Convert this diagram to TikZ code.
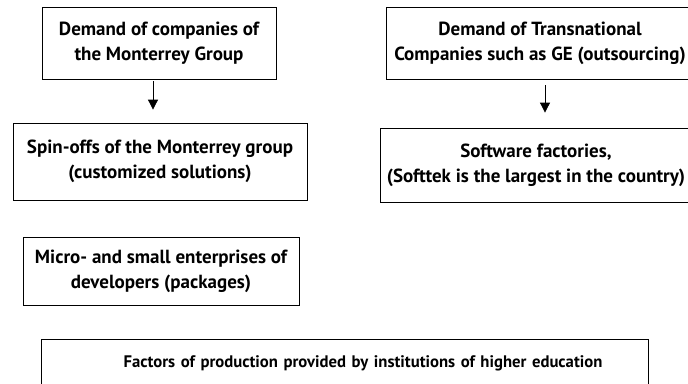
\documentclass[tikz,border=0pt]{standalone}
\usepackage{fontspec}
\setmainfont{PT Sans}
\usetikzlibrary{arrows.meta}
\tikzset{every scope/.style={>={Triangle[length=10pt,width=10pt]},line width=0.8pt}}
\tikzset{blk/.style={draw,align=center,inner sep=0pt,font=\fontsize{19}{25}\selectfont\bfseries}}

\begin{document}
\begin{tikzpicture}[x=1pt,y=-1pt]
      \useasboundingbox (0,0) rectangle (688,383);
      \clip (0,0) rectangle (688,383);
      \node[blk,minimum width=234pt,minimum height=72pt] (DemMty) at (159,43) {Demand of companies of\\the Monterrey Group};
      \node[blk,minimum width=294pt,minimum height=77pt] (SpinOff) at (160,161.5) {Spin-offs of the Monterrey group\\(customized solutions)};
      \node[blk,minimum width=308pt,minimum height=72pt] (DemTnc) at (540,43) {Demand of Transnational\\Companies such as GE (outsourcing)};
      \node[blk,minimum width=312pt,minimum height=74pt] (SwFact) at (536,165) {Software factories,\\(Softtek is the largest in the country)};
      \node[blk,minimum width=276pt,minimum height=68pt] (Micro) at (161,271) {Micro- and small enterprises of\\developers (packages)};
      \node[blk,anchor=west,minimum height=49pt,text width=515pt,inner xsep=46pt,align=right,font=\fontsize{16.7}{24}\selectfont\bfseries] (Factors) at (41,363.5) {Factors of production provided by institutions of higher education};

      \draw[->,shorten <=2pt,shorten >=13pt] ([xshift=-6pt]DemMty.south) -- ([xshift=-6pt]DemMty.south |- SpinOff.north);
      \draw[->,shorten <=6pt,shorten >=15pt] ([xshift=5pt]DemTnc.south) -- ([xshift=5pt]DemTnc.south |- SwFact.north);
    \end{tikzpicture}
\end{document}
